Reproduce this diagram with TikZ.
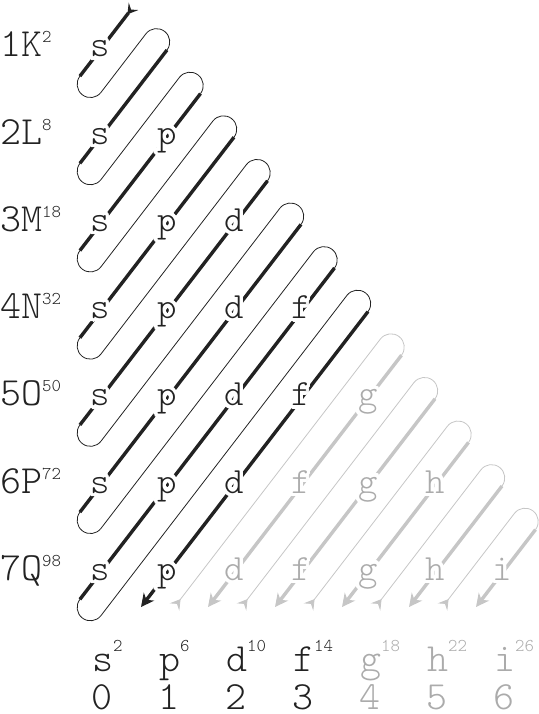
\documentclass[tikz,border=0pt]{standalone}
\usepackage{fontspec}
\setmonofont{Latin Modern Mono Light}
\usepackage{contour}
\usetikzlibrary{arrows.meta,calc}

\definecolor{ink}{HTML}{222222}
\definecolor{fade}{HTML}{C6C6C6}
\definecolor{fadetext}{HTML}{ABABAB}

\contourlength{3.5pt}
\contournumber{24}

\newcommand{\shellsup}[1]{\raisebox{14pt}{\fontsize{18}{18}\selectfont#1}}
\newcommand{\subsup}[1]{\raisebox{20pt}{\fontsize{18}{18}\selectfont#1}}

\tikzset{
  thickline/.style={line width=3.4pt},
  thinline/.style={line width=0.8pt},
  orbital/.style={font=\ttfamily\fontsize{37}{37}\selectfont,inner sep=0pt,anchor=base},
  shell/.style={font=\ttfamily\fontsize{40}{40}\selectfont,inner sep=0pt,anchor=base west,text=ink},
  sublabel/.style={font=\ttfamily\fontsize{40}{40}\selectfont,inner sep=0pt,anchor=base west},
  lnum/.style={font=\ttfamily\fontsize{40}{40}\selectfont,inner sep=0pt,anchor=base},
  tiptail/.style={{Stealth[reversed,length=10pt,width=12pt,inset=4pt]}-},
  tiphead/.style={-{Stealth[length=13pt,width=13pt,inset=4pt]}}
}

\begin{document}
\begin{tikzpicture}[x=1pt,y=1pt]
\useasboundingbox (0,0) rectangle (538,-714);

% ends of the diagonals
\foreach \m in {1,...,13}{
  \coordinate (T\m) at ({100+33.5*\m},{-(50+(\m/2-1)*87.2)});
  \coordinate (A\m) at ({100+67*(\m-7.388)},-607);
  \coordinate (S\m) at ({133.5+67*(\m-7.388)},-607);
}
\foreach \m in {1,...,7}
  \coordinate (B\m) at (79.9,{-(50+(\m-0.7)*87.2)});

% diagonals
\draw[thickline,ink,tiptail] (T1) -- (B1);
\foreach \m in {2,...,7}
  \draw[thickline,ink] (T\m) -- (B\m);
\draw[thickline,ink,tiphead] (T8) -- (A8);
\foreach \m in {9,...,13}
  \draw[thickline,fade,tiphead] (T\m) -- (A\m);

% return lines
\foreach \m [evaluate=\m as \k using int(\m+1)] in {1,...,7}
  \draw[thinline,ink] (B\m) arc[start angle=142.46,end angle=322.46,radius=13.3]
    -- ($(T\k)+(-21.09,16.2)$) arc[start angle=142.46,end angle=-37.54,radius=13.3];
\foreach \m [evaluate=\m as \k using int(\m+1)] in {8,...,12}
  \draw[thinline,fade,tiptail] (S\m)
    -- ($(T\k)+(-21.09,16.2)$) arc[start angle=142.46,end angle=-37.54,radius=13.3];

% orbitals
\foreach \n in {1,...,7}{
  \foreach \l/\o in {0/s,1/p,2/d,3/f,4/g,5/h,6/i}{
    \ifnum\l<\n
      \pgfmathtruncatemacro\m{\n+\l}
      \ifnum\m<9 \def\orbcol{ink}\else\def\orbcol{fadetext}\fi
      \node[orbital,text=\orbcol] (o\n\o) at ({100+67*\l},{-(57+(\n-1)*87.2)}) {\contour{white}{\o}};
    \fi
  }
}

% shells
\foreach \n/\shl/\shc in {1/K/2,2/L/8,3/M/18,4/N/32,5/O/50,6/P/72,7/Q/98}
  \node[shell] (shell\shl) at (0,{-(57+(\n-1)*87.2)}) {\n\shl\shellsup{\shc}};

% subshells
\foreach \l/\o/\shc in {0/s/2,1/p/6,2/d/10,3/f/14,4/g/18,5/h/22,6/i/26}{
  \ifnum\l<4 \def\orbcol{ink}\else\def\orbcol{fadetext}\fi
  \node[sublabel,text=\orbcol] (sub\o) at ({92+67*\l},-671) {\o\subsup{\shc}};
  \node[lnum,text=\orbcol] (l\l) at ({102+67*\l},-709) {\l};
}
\end{tikzpicture}
\end{document}
